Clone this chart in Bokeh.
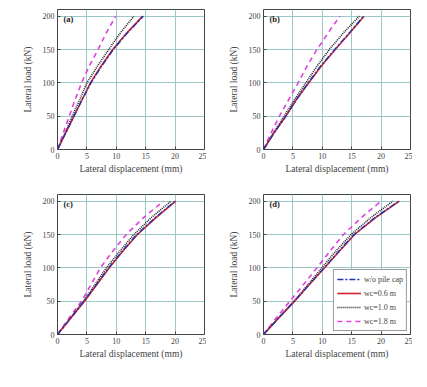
from bokeh.plotting import figure
from bokeh.layouts import gridplot
from bokeh.models import Label, Legend, LegendItem, Range1d, FixedTicker
from bokeh.embed import file_html
from bokeh.resources import INLINE

loads = [0, 25, 50, 75, 100, 125, 150, 175, 200]

panel_names = ["(a)", "(b)", "(c)", "(d)"]

no_cap = [
    [0, 1.4, 2.8, 4.2, 5.7, 7.5, 9.5, 11.9, 14.6],
    [0, 1.8, 3.8, 5.6, 7.6, 9.7, 12.1, 14.6, 17.0],
    [0, 2.3, 4.5, 6.6, 8.7, 11.0, 13.5, 16.6, 20.0],
    [0, 2.6, 5.2, 7.8, 10.3, 12.8, 15.4, 18.9, 23.0],
]
wc06 = [
    [0, 1.4, 2.8, 4.2, 5.6, 7.4, 9.4, 11.8, 14.5],
    [0, 1.8, 3.8, 5.6, 7.7, 9.8, 12.2, 14.7, 17.1],
    [0, 2.3, 4.6, 6.7, 8.8, 11.1, 13.6, 16.7, 20.1],
    [0, 2.6, 5.3, 7.8, 10.4, 12.9, 15.5, 19.0, 23.1],
]
wc10 = [
    [0, 1.3, 2.5, 3.8, 5.0, 6.8, 8.7, 10.7, 13.0],
    [0, 1.7, 3.5, 5.3, 7.2, 9.1, 11.2, 13.6, 16.3],
    [0, 2.2, 4.4, 6.4, 8.3, 10.6, 13.0, 15.9, 19.3],
    [0, 2.6, 5.2, 7.6, 9.9, 12.3, 14.9, 18.2, 22.0],
]
wc18 = [
    [0, 1.0, 2.0, 3.0, 4.1, 5.4, 6.9, 8.3, 9.9],
    [0, 1.3, 2.7, 4.3, 5.9, 7.4, 9.1, 11.0, 13.0],
    [0, 2.0, 4.1, 5.7, 7.3, 9.4, 11.7, 14.6, 18.0],
    [0, 2.2, 4.5, 6.8, 9.1, 11.3, 13.6, 16.6, 20.0],
]

x_ticks = [0, 5, 10, 15, 20, 25]
y_ticks = [0, 50, 100, 150, 200]
legend_labels = ["w/o pile cap", "wc=0.6 m", "wc=1.0 m", "wc=1.8 m"]

FONT = "Liberation Serif"

figs = []
for i in range(4):
    p = figure(width=206, height=185, output_backend="svg", toolbar_location=None,
               x_range=Range1d(0, 25), y_range=Range1d(0, 210),
               min_border_left=57, min_border_right=2, min_border_top=9, min_border_bottom=36)
    p.background_fill_color = "white"
    p.outline_line_color = "#444444"
    p.outline_line_width = 1
    for ax in (p.xaxis[0], p.yaxis[0]):
        ax.axis_line_color = None
        ax.major_tick_in = 3
        ax.major_tick_out = 0
        ax.minor_tick_line_color = None
        ax.major_tick_line_color = "#444444"
        ax.major_label_text_font = FONT
        ax.major_label_text_font_size = "8px"
        ax.major_label_text_color = "#444444"
        ax.axis_label_text_font = FONT
        ax.axis_label_text_font_size = "9.5px"
        ax.axis_label_text_font_style = "normal"
        ax.axis_label_text_color = "#444444"
        ax.major_label_standoff = 3
    p.xaxis[0].ticker = FixedTicker(ticks=x_ticks)
    p.yaxis[0].ticker = FixedTicker(ticks=y_ticks)
    p.xaxis[0].axis_label = "Lateral displacement (mm)"
    p.yaxis[0].axis_label = "Lateral load (kN)"
    p.xaxis[0].axis_label_standoff = 2
    p.yaxis[0].axis_label_standoff = 7
    p.xgrid[0].ticker = FixedTicker(ticks=x_ticks)
    p.ygrid[0].ticker = FixedTicker(ticks=y_ticks)
    p.grid.grid_line_color = "#9cc7c7"
    p.grid.grid_line_alpha = 1.0
    p.grid.grid_line_width = 1

    r_mag = p.line(wc18[i], loads, line_color="#e040e0", line_width=1.6, line_dash="5 4")
    r_blk = p.line(wc10[i], loads, line_color="#222222", line_width=1.6, line_dash="1 1")
    r_red = p.line(wc06[i], loads, line_color="#d42030", line_width=1.6)
    r_blu = p.line(no_cap[i], loads, line_color="#2233aa", line_width=1.4, line_dash="6 2 2 2")

    p.add_layout(Label(x=1, y=188, text=panel_names[i], text_font=FONT,
                       text_font_size="8.5px", text_font_style="bold", text_color="#222222"))

    if i == 3:
        legend = Legend(items=[
            LegendItem(label=legend_labels[0], renderers=[r_blu]),
            LegendItem(label=legend_labels[1], renderers=[r_red]),
            LegendItem(label=legend_labels[2], renderers=[r_blk]),
            LegendItem(label=legend_labels[3], renderers=[r_mag]),
        ], location="bottom_right")
        legend.label_text_font = FONT
        legend.label_text_font_size = "8px"
        legend.label_height = 12
        legend.glyph_height = 12
        legend.glyph_width = 24
        legend.spacing = 2
        legend.padding = 3
        legend.margin = 3
        legend.label_standoff = 3
        legend.border_line_color = "#333333"
        legend.background_fill_alpha = 1
        p.add_layout(legend, "center")
    figs.append(p)

grid = gridplot([[figs[0], figs[1]], [figs[2], figs[3]]], toolbar_location=None)

open("out.html", "w").write(file_html(grid, INLINE))
